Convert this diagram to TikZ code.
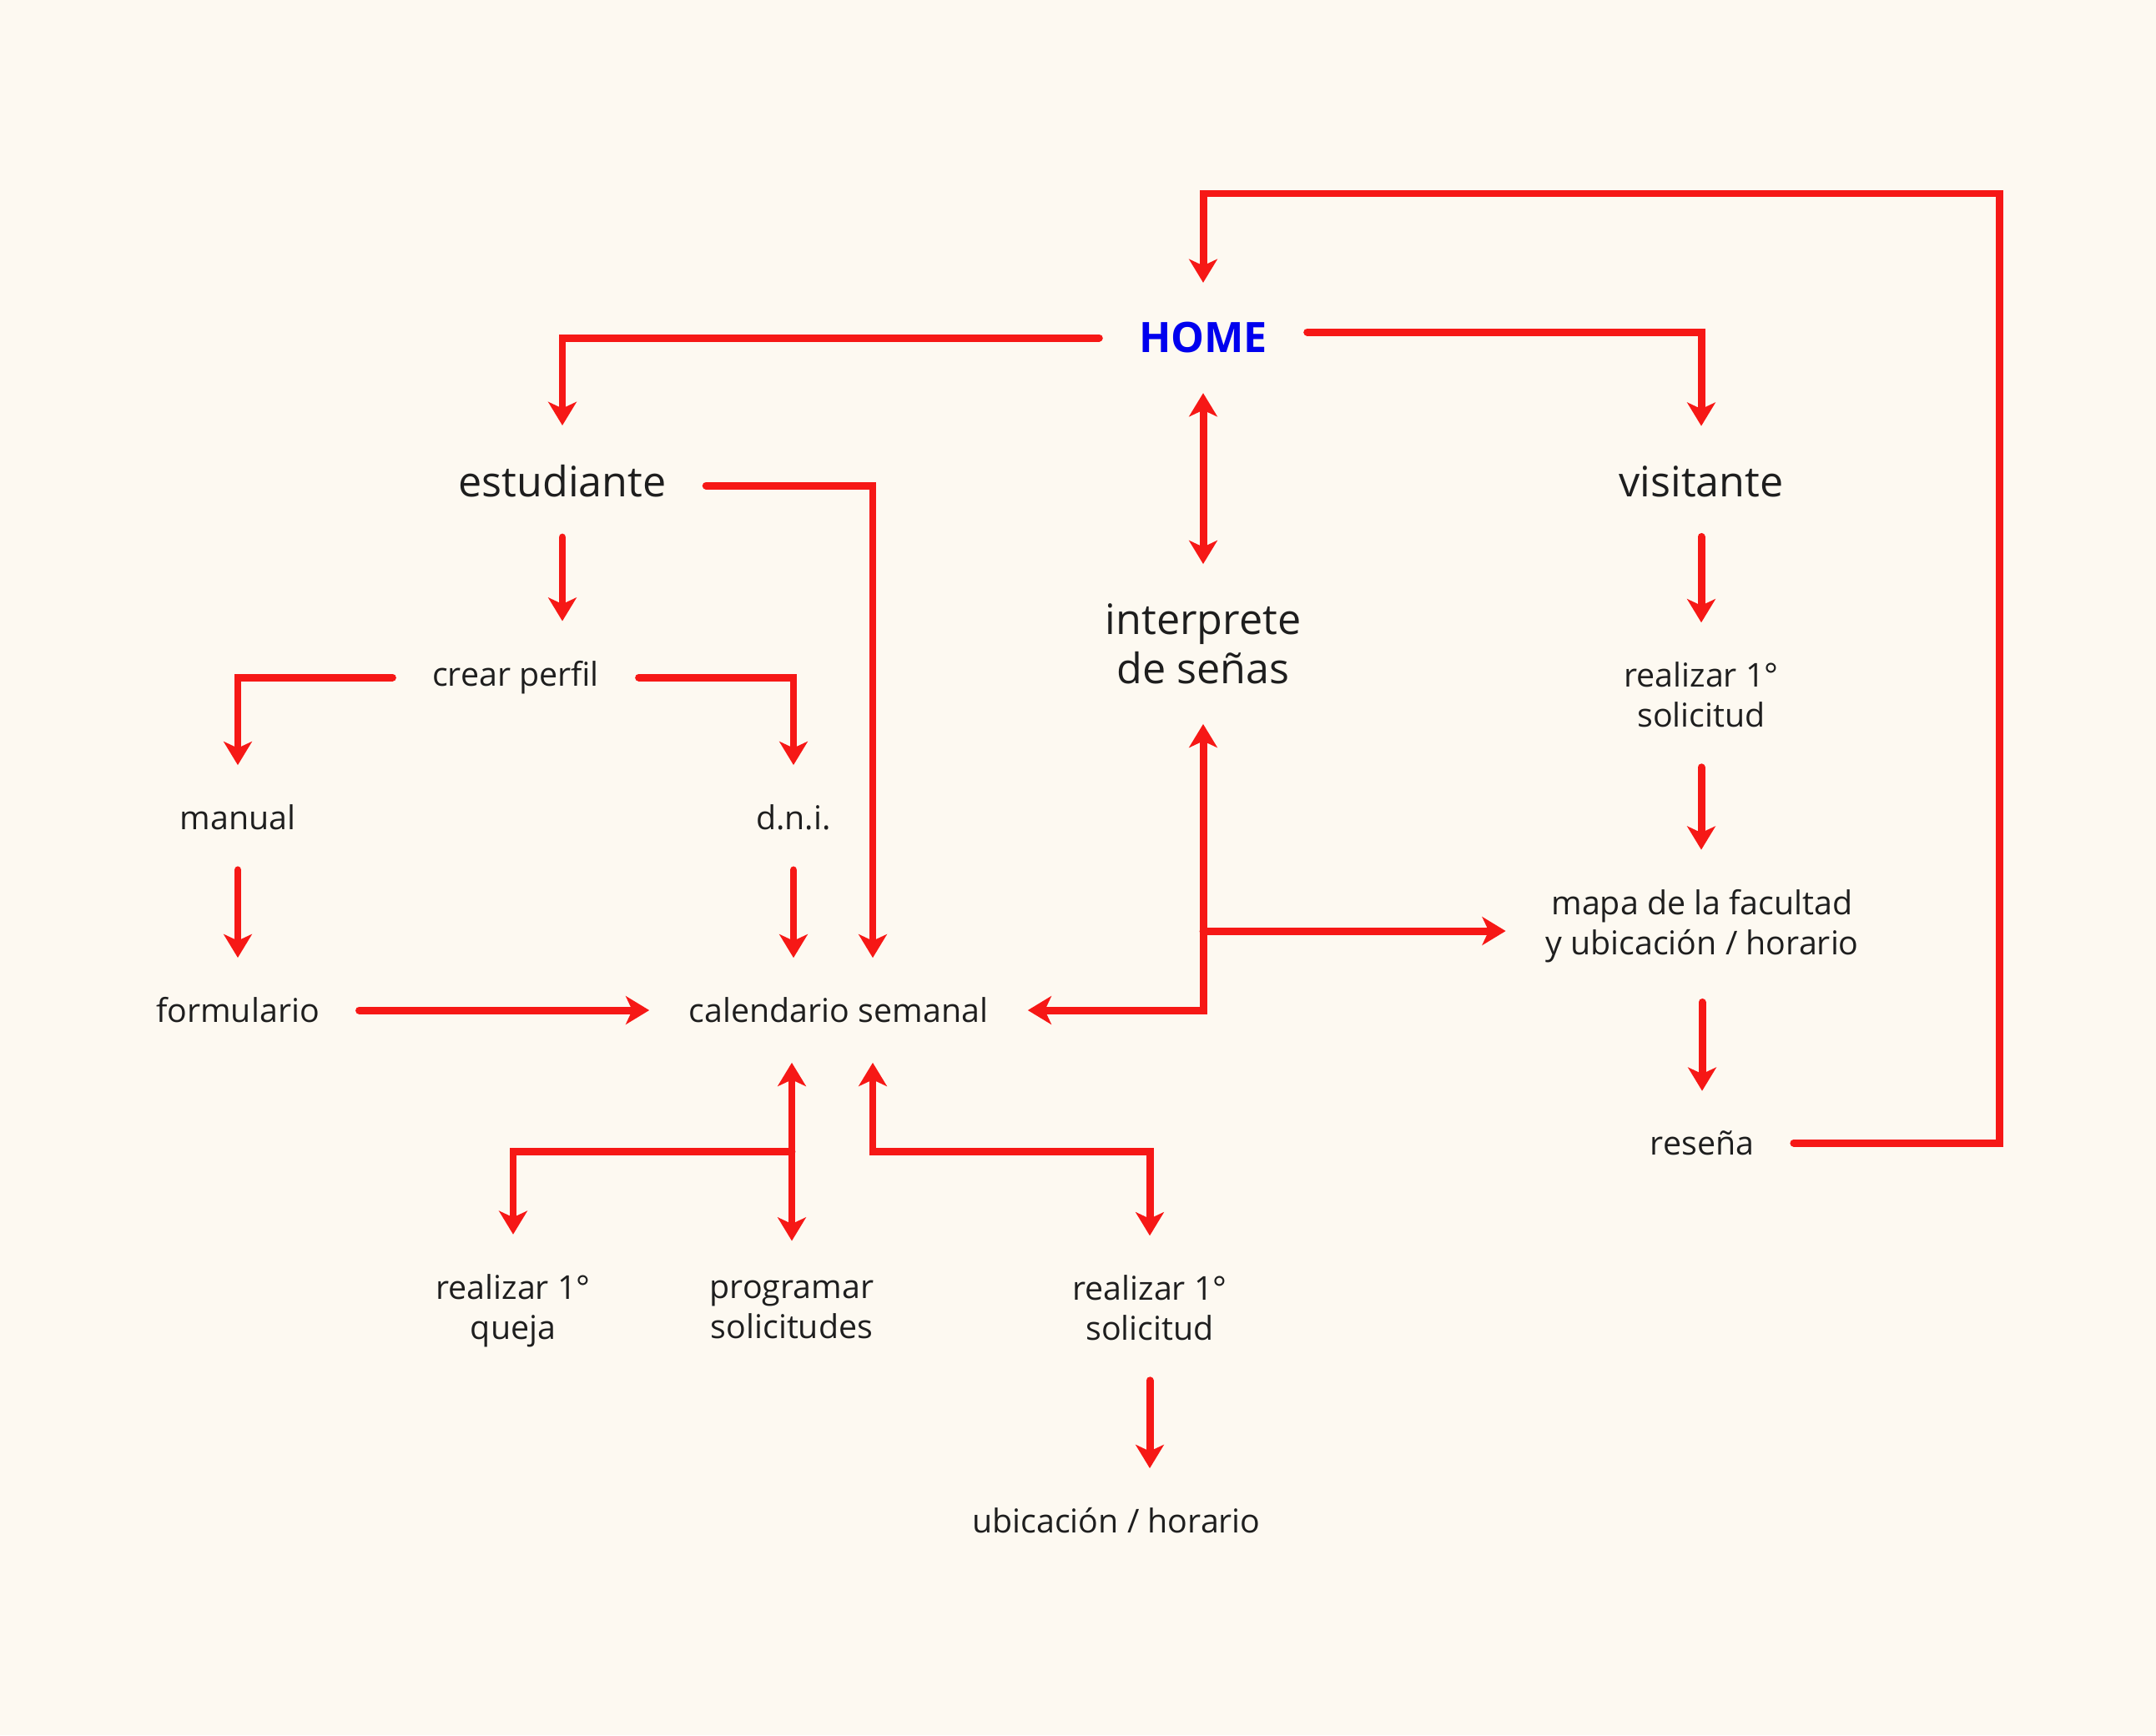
\documentclass[tikz,border=0pt]{standalone}
\usepackage{fontspec}
\setmainfont{Open Sans}
\usetikzlibrary{arrows.meta, calc}
\definecolor{paper}{RGB}{253,249,241}
\definecolor{flowred}{RGB}{246,24,22}
\definecolor{homeblue}{RGB}{0,0,238}
\definecolor{ink}{RGB}{30,30,30}

\begin{document}
\begin{tikzpicture}[
    >={Stealth[length=8pt,width=9.6pt,inset=2.2pt]},
    big/.style={inner sep=0pt, align=center, text=ink,
                font=\fontsize{14.3}{16.8}\selectfont},
    small/.style={inner sep=0pt, align=center, text=ink,
                  font=\fontsize{11.2}{13.6}\selectfont},
    link/.style={->, draw=flowred, line width=2.55pt, line cap=round,
                 shorten <=0.47cm, shorten >=0.47cm},
    both/.style={link, <->},
]

% canvas
\path[use as bounding box, fill=paper] (0,0) rectangle (25.84,-20.80);

%---------------------------------------------------------------
% nodes
%---------------------------------------------------------------
\node[big, text=homeblue, font=\fontsize{14.3}{16.8}\selectfont\bfseries]
     (home) at (14.42,-4.05) {HOME};

\node[big] (estud)  at (6.74,-5.77)  {estudiante};
\node[big] (visit)  at (20.39,-5.77) {visitante};
\node[big] (interp) at (14.42,-7.72) {interprete\\de señas};

% left branch: student
\node[small] (perfil) at (6.18,-8.12)  {crear perfil};
\node[small] (manual) at (2.85,-9.80)  {manual};
\node[small] (dni)    at (9.51,-9.80)  {d.n.i.};
\node[small] (form)   at (2.85,-12.11) {formulario};
\node[small] (cal)    at (10.05,-12.11) {calendario semanal};

\node[small] (queja) at (6.15,-15.71) {realizar 1°\\queja};
\node[small] (prog)  at (9.49,-15.70) {programar\\solicitudes};
\node[small] (sol2)  at (13.78,-15.68) {realizar 1°\\solicitud};
\node[small] (ubic)  at (13.38,-18.23) {ubicación / horario};

% right branch: visitor
\node[small] (solv)   at (20.39,-8.33)  {realizar 1°\\solicitud};
\node[small] (mapa)   at (20.40,-11.10) {mapa de la facultad\\y ubicación / horario};
\node[small] (resena) at (20.40,-13.70) {reseña};

\coordinate (ret) at (23.96,-2.32);
\coordinate (calsplit) at ($(cal.south)!0.5!(prog.north)$);

%---------------------------------------------------------------
% connectors
%---------------------------------------------------------------
\draw[link] (home.west) -| (estud.north);
\draw[link] ([yshift=0.07cm]home.east) -| (visit.north);
\draw[both] (home.south) -- (interp.north);
\draw[link] (resena.east) -| (ret) -| (home.north);

% straight drops
\foreach \a/\b in {estud/perfil, manual/form, dni/cal, visit/solv,
                   solv/mapa, mapa/resena, sol2/ubic} {
    \draw[link] (\a.south) -- (\a.south |- \b.north);
}

\draw[link] (perfil.west) -| (manual.north);
\draw[link] (perfil.east) -| (dni.north);
\draw[link] ([yshift=-0.05cm]estud.east) -| ([xshift=0.41cm]cal.north);
\draw[link] (form.east) -- (cal.west);

% interpreter hub
\draw[both] (interp.south) |- (cal.east);
\draw[link, shorten <=0pt] (interp.south |- mapa.west)
     ++(0,-0.06) -- ([yshift=-0.06cm]mapa.west);

% below the calendar
\draw[both] (cal.south -| prog.north) -- (prog.north);
\draw[link, shorten <=0pt] (calsplit -| prog.north) -| (queja.north);
\draw[both] ([xshift=0.41cm]cal.south) |- (calsplit -| sol2.north)
     -- (sol2.north);

\end{tikzpicture}
\end{document}
